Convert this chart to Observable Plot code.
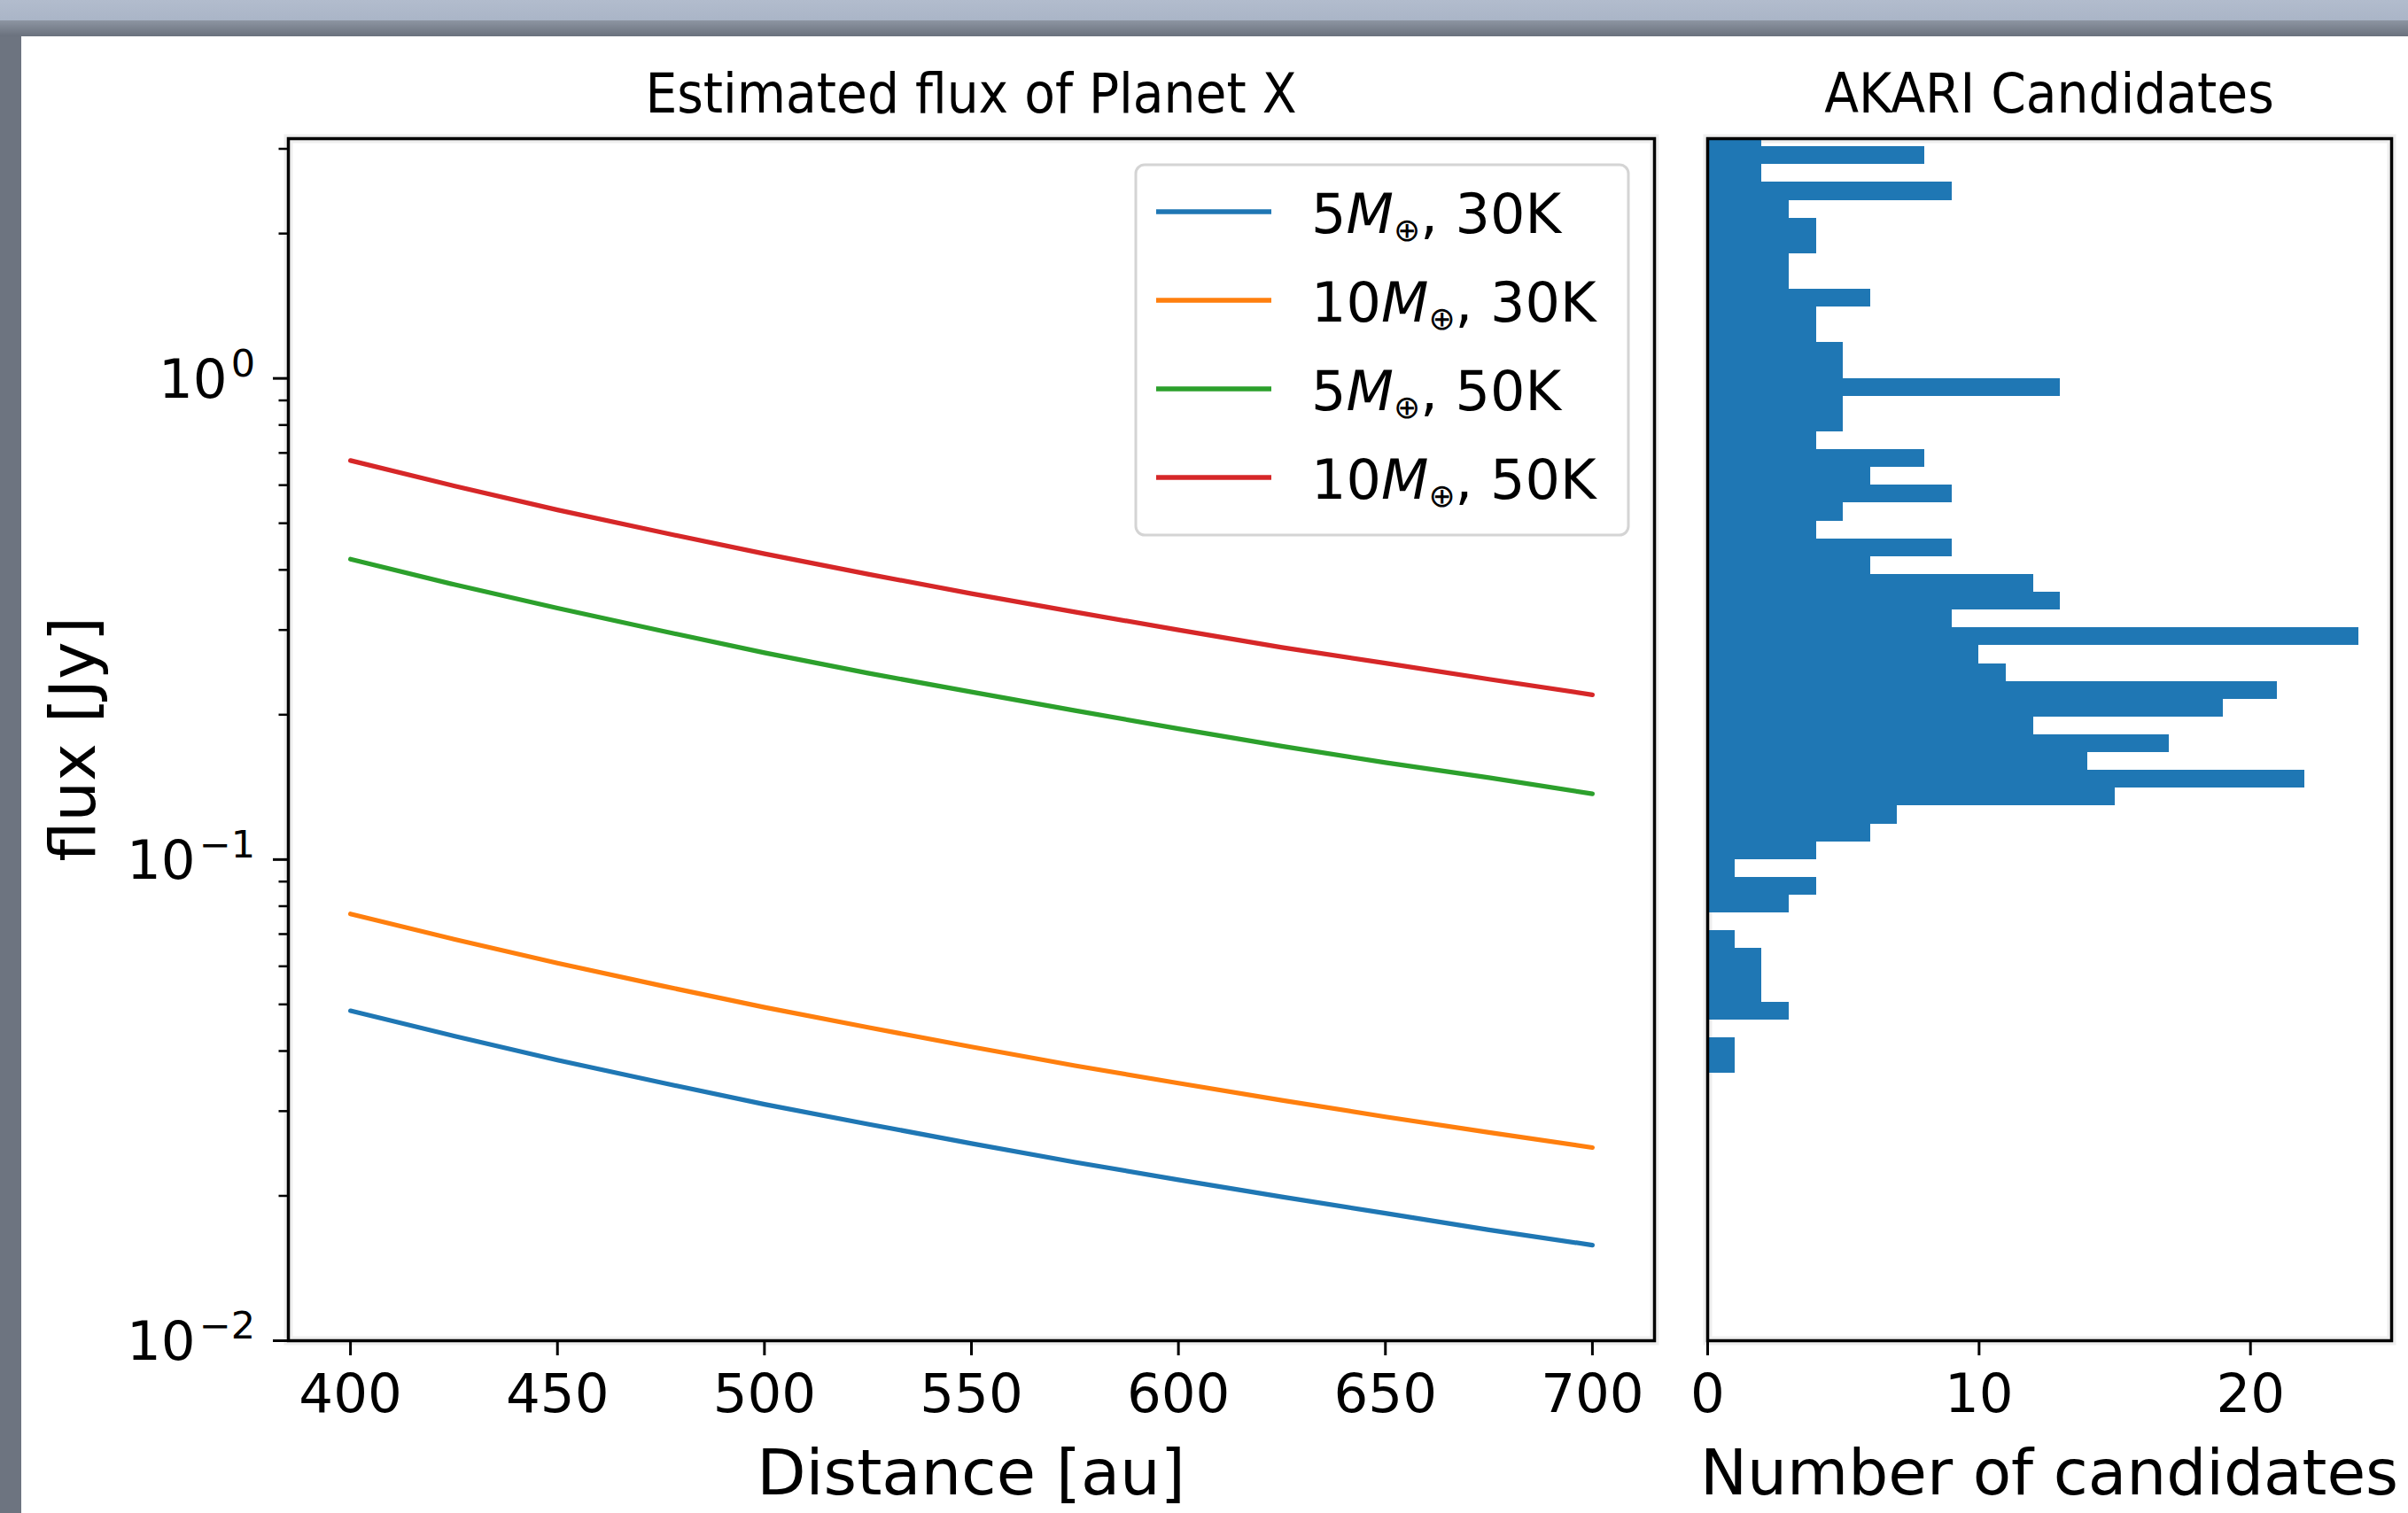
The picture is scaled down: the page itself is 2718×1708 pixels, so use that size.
<!DOCTYPE html>
<html><head><meta charset="utf-8">
<script src="https://cdn.jsdelivr.net/npm/d3@7"></script>
<script src="https://cdn.jsdelivr.net/npm/@observablehq/plot@0.6"></script>
<style>
html,body{margin:0;padding:0;background:#fff;}
#page{position:relative;width:2718px;height:1708px;overflow:hidden;background:#6d7480;}
#topbar{position:absolute;left:0;top:0;width:2718px;height:23px;background:linear-gradient(#b2bccd,#aab5c7);}
#band{position:absolute;left:0;top:23px;width:2718px;height:18px;background:linear-gradient(#8d95a2,#6a717d);}
#fig{position:absolute;left:24px;top:41px;width:2694px;height:1667px;background:#fff;}
#left{position:absolute;left:24px;top:41px;width:1876px;height:1667px;}
#right{position:absolute;left:1900px;top:41px;width:818px;height:1667px;}
</style></head>
<body><div id="page"><div id="topbar"></div><div id="band"></div><div id="fig"></div><div id="left"></div><div id="right"></div></div>
<script>
// ---------- data ----------
const distanceAU   = [400, 425, 450, 475, 500, 525, 550, 575, 600, 625, 650, 675, 700];
const flux_5M_30K  = [0.0485, 0.0430, 0.0383, 0.0344, 0.0310, 0.0282, 0.0257, 0.0235, 0.0216, 0.0199, 0.0184, 0.0170, 0.0158];
const flux_10M_30K = [0.0771, 0.0683, 0.0609, 0.0547, 0.0493, 0.0448, 0.0408, 0.0373, 0.0343, 0.0316, 0.0292, 0.0271, 0.0252];
const flux_5M_50K  = [0.421, 0.373, 0.333, 0.299, 0.269, 0.244, 0.223, 0.204, 0.187, 0.172, 0.159, 0.148, 0.137];
const flux_10M_50K = [0.675, 0.598, 0.533, 0.479, 0.432, 0.392, 0.357, 0.327, 0.300, 0.276, 0.256, 0.237, 0.220];
const seriesKeys   = ["5M_30K", "10M_30K", "5M_50K", "10M_50K"];
const massLabels   = ["5", "10", "5", "10"];
const tempLabels   = ["30K", "30K", "50K", "50K"];

// histogram of AKARI candidates: bin edges (Jy, top to bottom) and counts per bin
const binEdgesJy = [3.300, 3.030, 2.783, 2.555, 2.346, 2.154, 1.978, 1.817, 1.668, 1.532, 1.407, 1.292, 1.186, 1.089, 1.000,
  0.9183, 0.8432, 0.7743, 0.7110, 0.6529, 0.5995, 0.5505, 0.5055, 0.4642, 0.4262, 0.3914, 0.3594, 0.3300, 0.3030,
  0.2783, 0.2555, 0.2346, 0.2154, 0.1978, 0.1817, 0.1668, 0.1532, 0.1407, 0.1292, 0.1186, 0.1089, 0.1000,
  0.09183, 0.08432, 0.07743, 0.07110, 0.06529, 0.05995, 0.05505, 0.05055, 0.04642, 0.04262, 0.03914, 0.03594];
const candidateCounts = [2, 8, 2, 9, 3, 4, 4, 3, 3, 6, 4, 4, 5, 5, 13, 5, 5, 4, 8, 6, 9, 5, 4, 9, 6, 12, 13, 9, 24, 10,
  11, 21, 19, 12, 17, 14, 22, 15, 7, 6, 4, 1, 4, 3, 0, 1, 2, 2, 2, 3, 0, 1, 1];

const distanceTicks = [400, 450, 500, 550, 600, 650, 700];
const countTicks    = [0, 10, 20];
const yMajorTicks   = [0.01, 0.1, 1];
const yTickBase     = ["10", "10", "10"];
const yTickExp      = ["\u22122", "\u22121", "0"];
const yMinorTicks   = [0.02, 0.03, 0.04, 0.05, 0.06, 0.07, 0.08, 0.09, 0.2, 0.3, 0.4, 0.5, 0.6, 0.7, 0.8, 0.9, 2, 3];

// ---------- styles ----------
const seriesColors = ["#1f77b4", "#ff7f0e", "#2ca02c", "#d62728"];
const histColor = "#1f77b4";
const FONT = '"DejaVu Sans", sans-serif';

// ---------- build tables ----------
const seriesValues = [flux_5M_30K, flux_10M_30K, flux_5M_50K, flux_10M_50K];
const lineRows = seriesKeys.flatMap((k, i) => distanceAU.map((d, j) => ({d, flux: seriesValues[i][j], series: k})));
const bins = candidateCounts.map((c, i) => ({hi: binEdgesJy[i], lo: binEdgesJy[i + 1], count: c})).filter(b => b.count > 0);

const W1 = 1876, H = 1667, ML1 = 301, MR1 = 33, MT = 115, MB = 195;
const W2 = 818, ML2 = 27, MR2 = 19;
const yDomain = [0.01, 3.15];

const left = Plot.plot({
  width: W1, height: H, marginLeft: ML1, marginRight: MR1, marginTop: MT, marginBottom: MB,
  style: {fontFamily: FONT, background: "transparent", color: "#000", maxWidth: "none", overflow: "visible"},
  x: {domain: [385, 715]},
  y: {type: "log", domain: yDomain},
  color: {domain: seriesKeys, range: seriesColors},
  marks: [
    Plot.frame({stroke: "#efefef", strokeWidth: 10}),
    Plot.axisX({ticks: distanceTicks, tickSize: 17, tickPadding: 20, strokeWidth: 3, fontSize: 61, label: null, tickFormat: d => String(d)}),
    Plot.axisY({ticks: yMajorTicks, tickSize: 17, strokeWidth: 3, fill: "none", label: null}),
    Plot.axisY({ticks: yMinorTicks, tickSize: 10.5, strokeWidth: 2.5, fill: "none", label: null}),
    Plot.line(lineRows, {x: "d", y: "flux", z: "series", stroke: "series", strokeWidth: 5.2}),
    Plot.frame({stroke: "#000", strokeWidth: 3.5})
  ]
});
document.getElementById("left").appendChild(left);

const right = Plot.plot({
  width: W2, height: H, marginLeft: ML2, marginRight: MR2, marginTop: MT, marginBottom: MB,
  style: {fontFamily: FONT, background: "transparent", color: "#000", maxWidth: "none", overflow: "visible"},
  x: {domain: [0, 25.2]},
  y: {type: "log", domain: yDomain, axis: null},
  marks: [
    Plot.frame({stroke: "#efefef", strokeWidth: 10}),
    Plot.rectX(bins, {x1: d => 0, x2: "count", y1: "lo", y2: "hi", fill: histColor, inset: 0, clip: true, shapeRendering: "crispEdges"}),
    Plot.axisX({ticks: countTicks, tickSize: 17, tickPadding: 20, strokeWidth: 3, fontSize: 61, label: null, tickFormat: d => String(d)}),
    Plot.frame({stroke: "#000", strokeWidth: 3.5})
  ]
});
document.getElementById("right").appendChild(right);

// ---------- text: tick labels with superscripts, titles, labels, legend ----------
const svgL = d3.select(left), svgR = d3.select(right);
const ys = left.scale("y");
yMajorTicks.forEach((v, i) => {
  const t = svgL.append("text").attr("x", ML1 - 17 - 20).attr("y", ys.apply(v) + 22)
    .attr("text-anchor", "end").attr("font-size", 61).attr("font-family", FONT).attr("fill", "#000");
  t.append("tspan").text(yTickBase[i]);
  t.append("tspan").attr("font-size", 43).attr("dy", -24).attr("dx", 4).text(yTickExp[i]);
});

function title(svg, cx, text) {
  svg.append("text").attr("transform", `translate(${cx},86) scale(0.915,1)`)
    .attr("text-anchor", "middle").attr("font-size", 62).attr("font-family", FONT).attr("fill", "#000").text(text);
}
const cxL = ML1 + (W1 - ML1 - MR1) / 2, cxR = ML2 + (W2 - ML2 - MR2) / 2;
title(svgL, cxL, "Estimated flux of Planet X");
title(svgR, cxR, "AKARI Candidates");

svgL.append("text").attr("x", cxL).attr("y", H - 21).attr("text-anchor", "middle").attr("font-size", 72)
  .attr("font-family", FONT).attr("fill", "#000").text("Distance [au]");
svgR.append("text").attr("x", cxR).attr("y", H - 21).attr("text-anchor", "middle").attr("font-size", 71)
  .attr("font-family", FONT).attr("fill", "#000").text("Number of candidates");
svgL.append("text").attr("transform", `translate(83,${MT + (H - MT - MB) / 2}) rotate(-90)`).attr("text-anchor", "middle")
  .attr("font-size", 72).attr("font-family", FONT).attr("fill", "#000").text("flux [Jy]");

// legend (upper right of left panel)
const lg = svgL.append("g").attr("text-anchor", "start");
lg.append("rect").attr("x", 1258).attr("y", 145).attr("width", 556).attr("height", 418).attr("rx", 10)
  .attr("fill", "#fff").attr("fill-opacity", 0.8).attr("stroke", "#d4d4d4").attr("stroke-width", 3);
seriesKeys.forEach((k, i) => {
  const cy = 198 + i * 100;
  lg.append("line").attr("x1", 1281).attr("x2", 1411).attr("y1", cy).attr("y2", cy)
    .attr("stroke", seriesColors[i]).attr("stroke-width", 5.5);
  const t = lg.append("text").attr("x", 1456).attr("y", cy + 24).attr("text-anchor", "start")
    .attr("font-size", 62).attr("font-family", FONT).attr("fill", "#000");
  t.append("tspan").text(massLabels[i]);
  t.append("tspan").attr("font-style", "italic").text("M");
  t.append("tspan").attr("font-size", 36).attr("dy", 9).text("\u2295");
  t.append("tspan").attr("dy", -9).text(", " + tempLabels[i]);
});
</script>
</body></html>
